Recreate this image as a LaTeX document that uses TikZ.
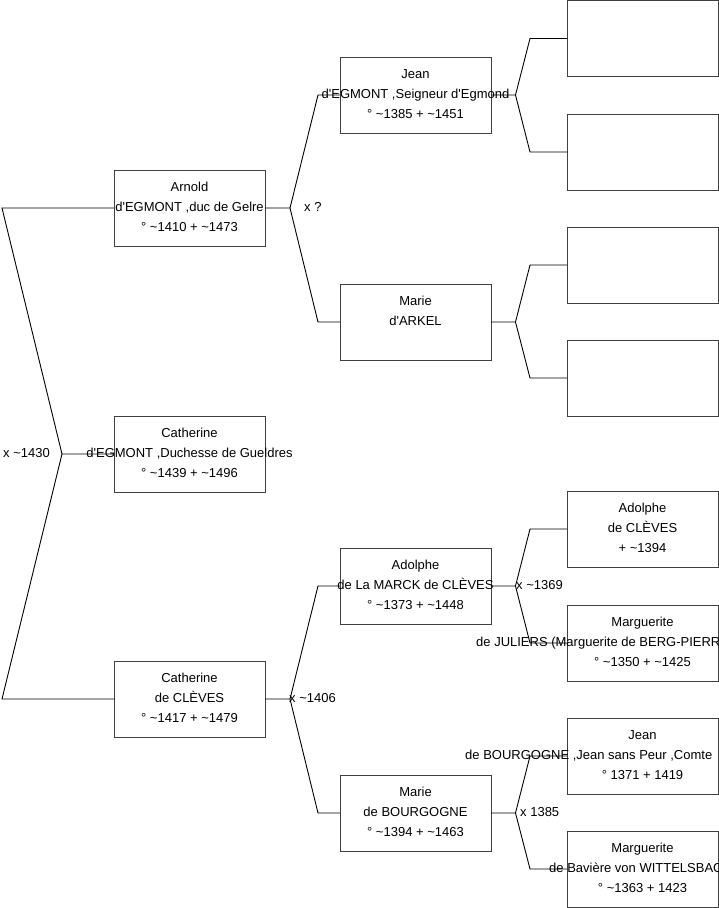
\documentclass[tikz,border=0pt]{standalone}
\usepackage{fontspec}
\setmainfont{Liberation Sans}
\newcommand\ap{\textquotesingle}
\newcommand\tld{\textasciitilde}
\tikzset{
  pbox/.style={draw=black!75, line width=1pt, minimum width=151pt, minimum height=76pt, inner sep=0pt, outer sep=0pt, fill=white},
  txt/.style={anchor=base, inner sep=0pt, font=\fontsize{13}{15}\selectfont},
  lbl/.style={anchor=base west, inner sep=0pt, font=\fontsize{13}{15}\selectfont},
  link/.style={draw=black, line width=0.9pt},
}
\newcommand\ptx[5]{%
  \node[txt] at (#1,#2-16.4) {#3};
  \node[txt] at (#1,#2+3.6) {#4};
  \node[txt] at (#1,#2+23.4) {#5};}
\begin{document}
\begin{tikzpicture}[x=1pt,y=-1pt]
\useasboundingbox (0,0) rectangle (719,908);
\clip (0,0) rectangle (719,908);
% boxes
\node[pbox] (arnold) at (189.5,208) {};
\node[pbox] (cathE) at (189.5,454) {};
\node[pbox] (cathC) at (189.5,699) {};
\node[pbox] (jean) at (415.5,95) {};
\node[pbox] (arkel) at (415.5,322) {};
\node[pbox] (adolphe) at (415.5,586) {};
\node[pbox] (marieB) at (415.5,813) {};
\node[pbox] (r1) at (642.5,38.5) {};
\node[pbox] (r2) at (642.5,152) {};
\node[pbox] (r3) at (642.5,265) {};
\node[pbox] (r4) at (642.5,378) {};
\node[pbox] (r5) at (642.5,529) {};
\node[pbox] (r6) at (642.5,643) {};
\node[pbox] (r7) at (642.5,756) {};
\node[pbox] (r8) at (642.5,869) {};
% connectors
\draw[link] (arnold.west) -- ([xshift=-112pt]arnold.west) -- ([xshift=-52pt]cathE.west) coordinate (fl) -- (cathE.west);
\draw[link] (fl) -- ([xshift=-112pt]cathC.west) -- (cathC.west);
\draw[link] (arnold.east) -- ++(25,0) coordinate (fa) -- ([xshift=-22pt]jean.west) -- (jean.west);
\draw[link] (fa) -- ([xshift=-22pt]arkel.west) -- (arkel.west);
\draw[link] (cathC.east) -- ++(25,0) coordinate (fc) -- ([xshift=-22pt]adolphe.west) -- (adolphe.west);
\draw[link] (fc) -- ([xshift=-22pt]marieB.west) -- (marieB.west);
\draw[link] (jean.east) -- ++(24.5,0) coordinate (fj) -- ([xshift=-37pt]r1.west) -- (r1.west);
\draw[link] (fj) -- ([xshift=-37pt]r2.west) -- (r2.west);
\draw[link] (arkel.east) -- ++(24.5,0) coordinate (fk) -- ([xshift=-37pt]r3.west) -- (r3.west);
\draw[link] (fk) -- ([xshift=-37pt]r4.west) -- (r4.west);
\draw[link] (adolphe.east) -- ++(24.5,0) coordinate (fd) -- ([xshift=-37pt]r5.west) -- (r5.west);
\draw[link] (fd) -- ([xshift=-37pt]r6.west) -- (r6.west);
\draw[link] (marieB.east) -- ++(24.5,0) coordinate (fm) -- ([xshift=-37pt]r7.west) -- (r7.west);
\draw[link] (fm) -- ([xshift=-37pt]r8.west) -- (r8.west);
% texts
\ptx{189.5}{208}{Arnold}{d\ap EGMONT ,duc de Gelre}{° \tld1410 + \tld1473}
\ptx{189.5}{454}{Catherine}{d\ap EGMONT ,Duchesse de Gueldres}{° \tld1439 + \tld1496}
\ptx{189.5}{699}{Catherine}{de CLÈVES}{° \tld1417 + \tld1479}
\ptx{415.5}{95}{Jean}{d\ap EGMONT ,Seigneur d\ap Egmond}{° \tld1385 + \tld1451}
\ptx{415.5}{322}{Marie}{d\ap ARKEL}{}
\ptx{415.5}{586}{Adolphe}{de La MARCK de CLÈVES}{° \tld1373 + \tld1448}
\ptx{415.5}{813}{Marie}{de BOURGOGNE}{° \tld1394 + \tld1463}
\ptx{642.5}{529}{Adolphe}{de CLÈVES}{+ \tld1394}
\ptx{642.5}{643}{Marguerite}{}{° \tld1350 + \tld1425}
\node[lbl] at (476,646.6) {de JULIERS (Marguerite de BERG-PIERR};
\ptx{642.5}{756}{Jean}{}{° 1371 + 1419}
\node[lbl] at (465,759.6) {de BOURGOGNE ,Jean sans Peur ,Comte};
\ptx{642.5}{869}{Marguerite}{}{° \tld1363 + 1423}
\node[lbl] at (549,872.6) {de Bavière von WITTELSBAC};
% marriage labels
\node[lbl] (m1) at (304,211.6) {x ?};
\node[lbl] (m2) at (3,457.6) {x \tld1430};
\node[lbl] (m3) at (289,702.6) {x \tld1406};
\node[lbl] (m4) at (516,589.6) {x \tld1369};
\node[lbl] (m5) at (520,816.6) {x 1385};
\end{tikzpicture}
\end{document}
